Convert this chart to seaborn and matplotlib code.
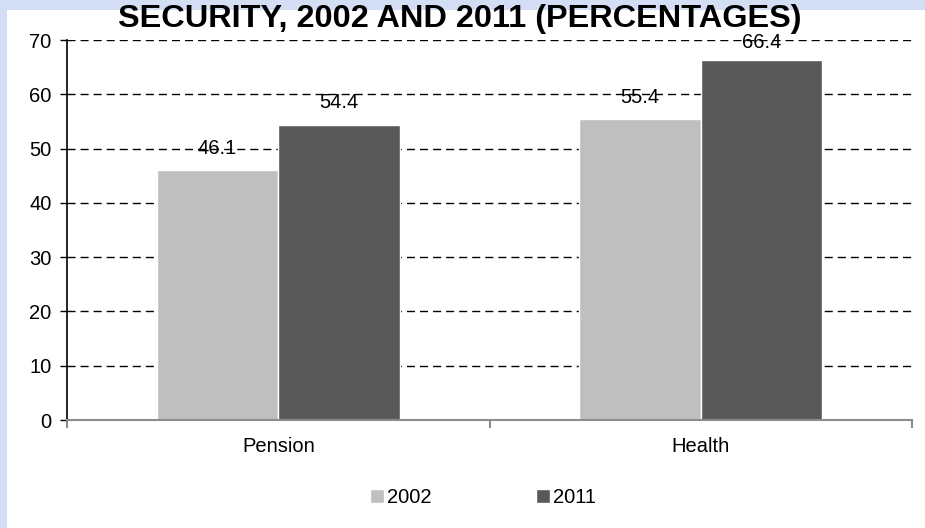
import numpy as np
import pandas as pd
import matplotlib
matplotlib.use("Agg")
import matplotlib.pyplot as plt
from matplotlib.patches import Rectangle
import seaborn as sns

categories = ["Pension", "Health"]
years = ["2002", "2011"]
values_2002 = [46.1, 55.4]
values_2011 = [54.4, 66.4]
colors = ["#bfbfbf", "#595959"]

df = pd.DataFrame({
    "type": categories * 2,
    "year": [years[0]] * 2 + [years[1]] * 2,
    "value": values_2002 + values_2011,
})

sns.set_style("white")
plt.rcParams["font.family"] = ["Liberation Sans", "DejaVu Sans"]
plt.rcParams["text.color"] = "black"
plt.rcParams["xtick.color"] = "black"
plt.rcParams["ytick.color"] = "black"

FS = 14.5

fig = plt.figure(figsize=(9.25, 5.28), dpi=100)
fig.patch.set_facecolor("#d3ddf3")
# white panel inside the lavender frame
fig.patches.append(Rectangle((7 / 925, 0), 1, 1 - 10 / 528, transform=fig.transFigure,
                             facecolor="white", edgecolor="none", zorder=-5))

ax = fig.add_axes([67 / 925, 108 / 528, 845 / 925, 380 / 528])
ax.set_zorder(2)
ax.set_facecolor("none")

sns.barplot(data=df, x="type", y="value", hue="year", palette=colors,
            width=0.575, saturation=1, ax=ax, zorder=2)

ax.set_xlim(-0.5, 1.5)
ax.set_ylim(0, 70)
ax.set_yticks(np.arange(0, 71, 10))
ax.yaxis.grid(True, color="black", linewidth=1, linestyle=(0, (5.8, 3.6)), zorder=0)
ax.set_axisbelow(True)

for sp in ["top", "right"]:
    ax.spines[sp].set_visible(False)
ax.spines["left"].set_color("black")
ax.spines["left"].set_linewidth(1.2)
ax.spines["bottom"].set_color("#8c8c8c")
ax.spines["bottom"].set_linewidth(1.5)

ax.tick_params(axis="y", which="major", direction="out", length=5, width=1,
               color="black", labelsize=FS, pad=6, left=True)
ax.tick_params(axis="x", which="major", length=0, labelsize=FS, pad=12)
ax.set_xticks([-0.5, 0.5, 1.5], minor=True)
ax.tick_params(axis="x", which="minor", direction="out", length=6, width=1.5,
               color="#8c8c8c", bottom=True)
ax.set_xlabel("")
ax.set_ylabel("")

# value labels sit above the bars but are kept inside the plot area
for cont in ax.containers:
    for bar in cont:
        h = bar.get_height()
        ax.text(bar.get_x() + bar.get_width() / 2, min(h + 4.0, 69.5), f"{h:.1f}",
                ha="center", va="center", fontsize=FS, zorder=5)

fig.text(460 / 925, 1 - 19 / 528, "SECURITY, 2002 AND 2011 (PERCENTAGES)",
         ha="center", va="center", fontsize=23.4, fontweight="bold", zorder=10)

ax.legend(loc="center", bbox_to_anchor=(0.4925, -0.205), ncol=2, frameon=False,
          fontsize=FS, handlelength=0.7, handleheight=0.7, handletextpad=0.15,
          columnspacing=5.2)

fig.savefig("out.png", dpi=100)
